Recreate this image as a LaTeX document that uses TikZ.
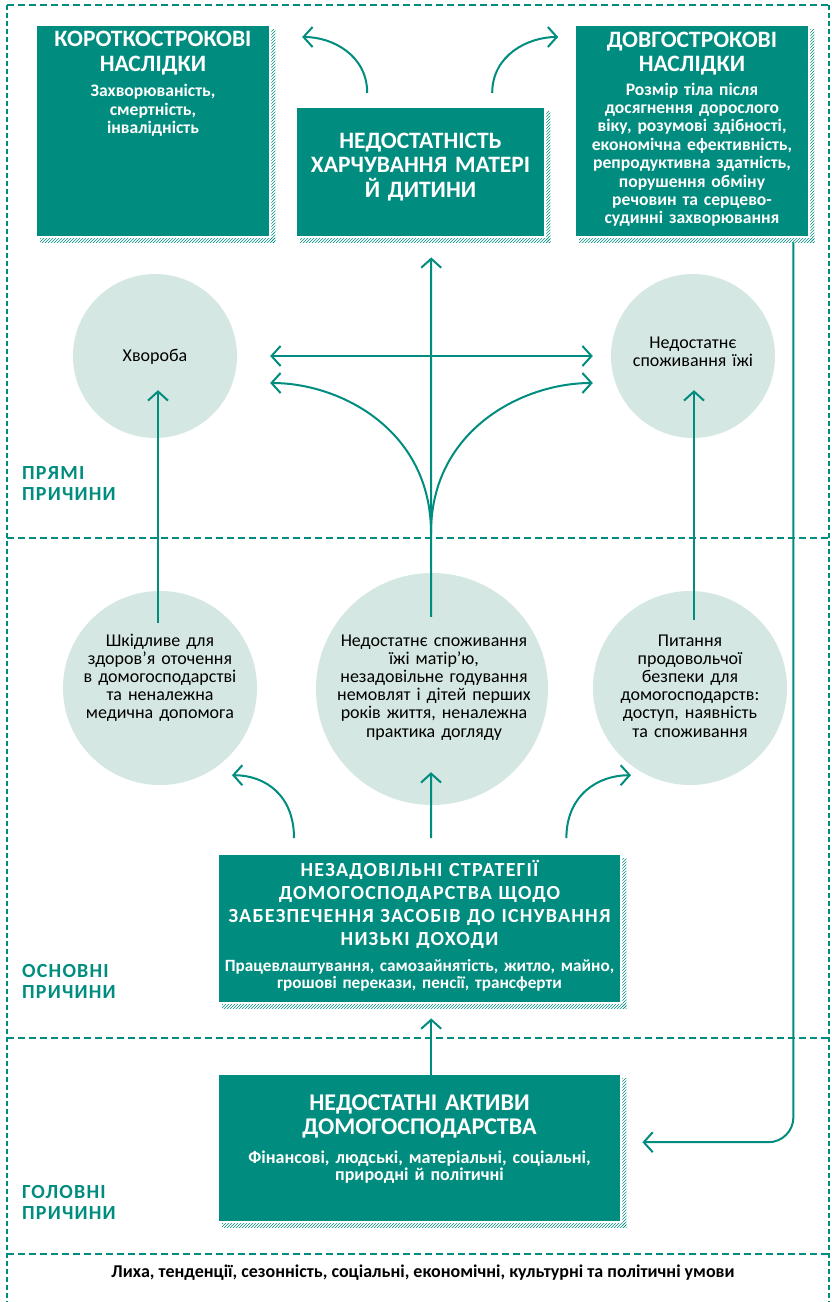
\documentclass[tikz,border=0pt]{standalone}
\usepackage{fontspec}
\setmainfont{Carlito}
\usetikzlibrary{arrows.meta,patterns,calc}
\definecolor{tealc}{RGB}{0,140,126}
\definecolor{palec}{RGB}{213,231,226}
\newcommand\hatchshadow[1]{%
  \fill[pattern=north east lines,pattern color=tealc] ($(#1.south west)+(3,2)$) rectangle ($(#1.south east)+(6,6)$);
  \fill[pattern=north east lines,pattern color=tealc] ($(#1.north east)+(2,3)$) rectangle ($(#1.south east)+(6,6)$);}
\begin{document}
\begin{tikzpicture}[x=1pt,y=-1pt,
  tbox/.style={fill=tealc,draw=none,inner sep=0,anchor=north west},
  circ/.style={circle,fill=palec,draw=none,inner sep=0},
  ttl/.style={text=white,font=\bfseries\fontsize{23.5}{24.8}\selectfont,align=center,inner sep=0,anchor=base},
  sub/.style={text=white,font=\bfseries\fontsize{17.6}{18.4}\selectfont,align=center,inner sep=0,anchor=base},
  ctext/.style={text=black,font=\fontsize{18}{18.2}\selectfont,align=center,inner sep=0,anchor=base},
  lbl/.style={text=tealc,font=\bfseries\fontsize{20}{21}\selectfont,align=left,text width=150,inner sep=0,anchor=base west},
  conn/.style={draw=tealc,line width=2pt},
  arr/.style={conn,-{Straight Barb[length=9pt,width=20pt,line width=2pt]}},
  darr/.style={conn,{Straight Barb[length=9pt,width=20pt,line width=2pt]}-{Straight Barb[length=9pt,width=20pt,line width=2pt]}},
  hdash/.style={draw=tealc,line width=2pt,dash pattern=on 6.5pt off 4.5pt},
  vdash/.style={draw=tealc,line width=2pt,dash pattern=on 4.5pt off 3.5pt}]
\useasboundingbox (0,0) rectangle (832,1302);
% frame
\draw[hdash] (7,5) -- (829,5);
\draw[vdash] (7,5) -- (7,1302);
\draw[vdash] (829,5) -- (829,1302);
\draw[hdash] (7,538) -- (829,538);
\draw[hdash] (7,1038) -- (829,1038);
\draw[hdash] (7,1254) -- (829,1254);
% top boxes
\node[tbox,minimum width=232,minimum height=210] (b1) at (37,26) {};
\node[tbox,minimum width=247,minimum height=128] (b2) at (297,108) {};
\node[tbox,minimum width=232,minimum height=210] (b3) at (576,26) {};
\hatchshadow{b1}\hatchshadow{b2}\hatchshadow{b3}
\node[ttl,text width=232] (b1a) at (153,46.7) {КОРОТКОСТРОКОВІ\\НАСЛІДКИ};
\node[sub,text width=232] (b1b) at (153,96.7) {Захворюваність,\\смертність,\\інвалідність};
\node[ttl,text width=247,font=\bfseries\fontsize{23.5}{24.5}\selectfont] (b2a) at (420.5,148) {НЕДОСТАТНІСТЬ\\ХАРЧУВАННЯ МАТЕРІ\\Й ДИТИНИ};
\node[ttl,text width=232] (b3a) at (692,47) {ДОВГОСТРОКОВІ\\НАСЛІДКИ};
\node[sub,text width=232] (b3b) at (692,95) {Розмір тіла після\\досягнення дорослого\\віку, розумові здібності,\\економічна ефективність,\\репродуктивна здатність,\\порушення обміну\\речовин та серцево-\\судинні захворювання};
% circles
\node[circ,minimum size=164] (c1) at (155,356) {};
\node[circ,minimum size=164] (c2) at (693,356) {};
\node[circ,minimum size=194] (c3) at (160,688) {};
\node[circ,minimum size=232] (c4) at (432,689) {};
\node[circ,minimum size=194] (c5) at (690,688) {};
\node[ctext] (c1t) at (155,361.7) {Хвороба};
\node[ctext,text width=150] (c2t) at (693,348) {Недостатнє\\споживання їжі};
\node[ctext,text width=180] (c3t) at (160,646) {Шкідливе для\\здоров’я оточення\\в домогосподарстві\\та неналежна\\медична допомога};
\node[ctext,text width=220] (c4t) at (434,646) {Недостатнє споживання\\їжі матір’ю,\\незадовільне годування\\немовлят і дітей перших\\років життя, неналежна\\практика догляду};
\node[ctext,text width=180] (c5t) at (690,646) {Питання\\продовольчої\\безпеки для\\домогосподарств:\\доступ, наявність\\та споживання};
% lower boxes
\node[tbox,minimum width=401,minimum height=147] (b4) at (219,855) {};
\node[tbox,minimum width=401,minimum height=146] (b5) at (219,1075) {};
\hatchshadow{b4}\hatchshadow{b5}
\node[ttl,text width=401,font=\bfseries\fontsize{20}{23}\selectfont] (b4a) at (419.5,876.7) {\addfontfeatures{LetterSpace=6}НЕЗАДОВІЛЬНІ СТРАТЕГІЇ\\ДОМОГОСПОДАРСТВА ЩОДО\\ЗАБЕЗПЕЧЕННЯ ЗАСОБІВ ДО ІСНУВАННЯ\\НИЗЬКІ ДОХОДИ};
\node[sub,text width=401,font=\bfseries\fontsize{17.2}{16.5}\selectfont] (b4b) at (419.5,971.7) {Працевлаштування, самозайнятість, житло, майно,\\грошові перекази, пенсії, трансферти};
\node[ttl,text width=401,font=\bfseries\fontsize{24}{24}\selectfont] (b5a) at (419.5,1110) {НЕДОСТАТНІ АКТИВИ\\ДОМОГОСПОДАРСТВА};
\node[sub,text width=401,font=\bfseries\fontsize{18}{17}\selectfont] (b5b) at (419.5,1163) {Фінансові, людські, матеріальні, соціальні,\\природні й політичні};
% labels
\node[lbl] (l1) at (22,479) {\addfontfeatures{LetterSpace=6}ПРЯМІ\\ПРИЧИНИ};
\node[lbl] (l2) at (22,977) {\addfontfeatures{LetterSpace=6}ОСНОВНІ\\ПРИЧИНИ};
\node[lbl] (l3) at (22,1198) {\addfontfeatures{LetterSpace=6}ГОЛОВНІ\\ПРИЧИНИ};
\node[text=black,font=\bfseries\fontsize{18}{18}\selectfont,inner sep=0,anchor=base] (ft) at (423,1277) {Лиха, тенденції, сезонність, соціальні, економічні, культурні та політичні умови};
% connectors top
\draw[arr] ($(b2.north)+(-53.5,-15)$) .. controls +(0,-38) and +(30,0) .. ($(b2.north)+(-118.5,-71)$);
\draw[arr] ($(b2.north)+(71.5,-15)$) .. controls +(0,-38) and +(-30,0) .. ($(b2.north)+(137.5,-71)$);
\draw[arr] ($(c4.north)+(-1,44)$) -- ($(b2.south)+(10.5,21)$);
\draw[darr] ($(c1.east)+(33,0)$) -- ($(c2.west)+(-18,0)$);
\coordinate (fork) at ($(c4.north)+(-1,-40)$);
\draw[arr] (fork) .. controls +(0,-103) and +(70,0) .. ($(c1.east)+(33,27)$);
\draw[arr] (fork) .. controls +(0,-103) and +(-70,0) .. ($(c2.west)+(-18,27)$);
\draw[arr] ($(c3.north)+(-2,32)$) -- ($(c1.south)+(3,-48)$);
\draw[arr] ($(c5.north)+(4,29)$) -- ($(c2.south)+(1,-48)$);
% connectors middle
\draw[arr] ($(b4.north west)+(75,-17)$) .. controls +(0,-43) and +(33,0) .. ($(c3.south)+(72,-10)$);
\draw[arr] ($(b4.north east)+(-54,-17)$) .. controls +(0,-43) and +(-33,0) .. ($(c5.south)+(-59,-10)$);
\draw[arr] ($(b4.north)+(11.5,-17)$) -- ($(c4.south)+(-1,-33)$);
\draw[arr] ($(b5.north)+(11.5,0)$) -- ($(b4.south)+(11.5,16)$);
\draw[arr,rounded corners=25] ($(b3.south east)+(-15,6)$) |- ($(b5.east)+(22,-6)$);
\end{tikzpicture}
\end{document}
